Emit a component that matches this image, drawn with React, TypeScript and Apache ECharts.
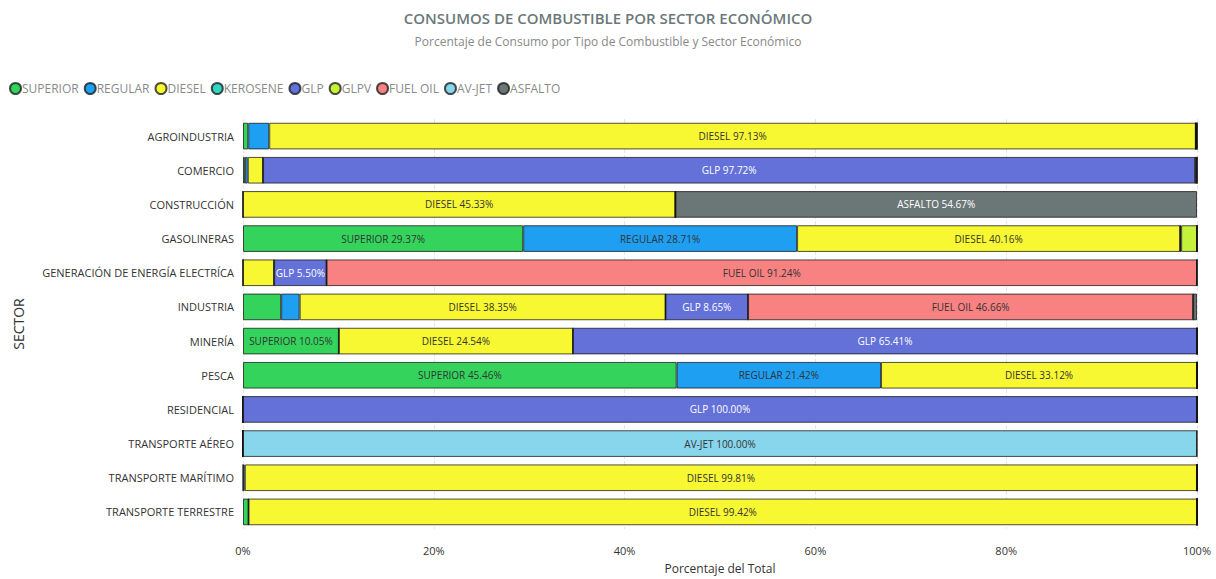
import React, { useEffect, useRef } from "react";
import * as echarts from "echarts";

const sectors = [
  "AGROINDUSTRIA",
  "COMERCIO",
  "CONSTRUCCIÓN",
  "GASOLINERAS",
  "GENERACIÓN DE ENERGÍA ELECTRÍCA",
  "INDUSTRIA",
  "MINERÍA",
  "PESCA",
  "RESIDENCIAL",
  "TRANSPORTE AÉREO",
  "TRANSPORTE MARÍTIMO",
  "TRANSPORTE TERRESTRE",
];

const fuels = ["SUPERIOR", "REGULAR", "DIESEL", "KEROSENE", "GLP", "GLPV", "FUEL OIL", "AV-JET", "ASFALTO"];

const superior = [0.55, 0.2, 0, 29.37, 0, 4.0, 10.05, 45.46, 0, 0, 0, 0.58];
const regular = [2.2, 0.3, 0, 28.71, 0, 1.94, 0, 21.42, 0, 0, 0.19, 0];
const diesel = [97.13, 1.6, 45.33, 40.16, 3.26, 38.35, 24.54, 33.12, 0, 0, 99.81, 99.42];
const kerosene = [0, 0, 0, 0, 0, 0, 0, 0, 0, 0, 0, 0];
const glp = [0, 97.72, 0, 0.1, 5.5, 8.65, 65.41, 0, 100, 0, 0, 0];
const glpv = [0, 0, 0, 1.66, 0, 0, 0, 0, 0, 0, 0, 0];
const fuelOil = [0.12, 0.18, 0, 0, 91.24, 46.66, 0, 0, 0, 0, 0, 0];
const avJet = [0, 0, 0, 0, 0, 0, 0, 0, 0, 100, 0, 0];
const asfalto = [0, 0, 54.67, 0, 0, 0.4, 0, 0, 0, 0, 0, 0];

const xTicks = ["0%", "20%", "40%", "60%", "80%", "100%"];

const seriesValues = [superior, regular, diesel, kerosene, glp, glpv, fuelOil, avJet, asfalto];
const colors = ["#34d35c", "#1e9ff2", "#f8f832", "#2fd6c2", "#6371d9", "#c4f23a", "#f88282", "#88d6ec", "#6b7777"];
const labelColors = ["#333", "#333", "#333", "#333", "#fff", "#333", "#333", "#333", "#fff"];

const FONT = "'Open Sans', 'Noto Sans', sans-serif";

export default function App() {
  const ref = useRef<HTMLDivElement>(null);
  useEffect(() => {
    if (!ref.current) return;
    const chart = echarts.init(ref.current, null, { renderer: "svg" });
    chart.setOption({
      animation: false,
      textStyle: { fontFamily: FONT },
      title: {
        text: "CONSUMOS DE COMBUSTIBLE POR SECTOR ECONÓMICO",
        subtext: "Porcentaje de Consumo por Tipo de Combustible y Sector Económico",
        left: "center",
        top: 5,
        itemGap: 10,
        textStyle: { fontSize: 15, fontWeight: 600, color: "#6b7878", fontFamily: FONT },
        subtextStyle: { fontSize: 12, color: "#888", fontFamily: FONT },
      },
      legend: {
        left: 4,
        top: 77,
        icon: "circle",
        itemWidth: 11,
        itemHeight: 11,
        itemGap: 5,
        data: fuels,
        textStyle: { fontSize: 12, color: "#8a8a8a", fontFamily: FONT, padding: [0, 0, 0, -4] },
      },
      grid: { left: 243, right: 19, top: 119, bottom: 46, containLabel: false },
      xAxis: {
        type: "value",
        min: 0,
        max: 100,
        interval: 20,
        name: "Porcentaje del Total",
        nameLocation: "middle",
        nameGap: 33,
        nameTextStyle: { fontSize: 12, color: "#333" },
        axisLabel: {
          fontSize: 11,
          color: "#333",
          margin: 16,
          formatter: (v: number) => xTicks[Math.round(v / 20)] ?? "",
        },
        axisLine: { show: false },
        axisTick: { show: false },
        splitLine: { show: true, lineStyle: { type: "dashed", color: "#e6e6e6" } },
      },
      yAxis: {
        type: "category",
        data: sectors,
        inverse: true,
        name: "SECTOR",
        nameLocation: "middle",
        nameGap: 218,
        nameRotate: 90,
        nameTextStyle: { fontSize: 14, color: "#333" },
        axisLabel: { fontSize: 11, color: "#333", margin: 9 },
        axisLine: { show: false },
        axisTick: { show: false },
      },
      series: fuels.map((name, i) => ({
        name,
        type: "bar",
        stack: "total",
        barCategoryGap: "22%",
        data: seriesValues[i],
        itemStyle: { color: colors[i], borderColor: "rgba(20,20,20,0.75)", borderWidth: 1 },
        label: {
          show: true,
          position: "inside",
          fontSize: 10,
          color: labelColors[i],
          fontFamily: FONT,
          formatter: (p: any) => (p.value >= 5 ? `${name} ${Number(p.value).toFixed(2)}%` : ""),
        },
      })),
    });
    return () => chart.dispose();
  }, []);
  return <div ref={ref} style={{ position: "absolute", left: 0, top: 0, width: 1216, height: 579 }} />;
}
